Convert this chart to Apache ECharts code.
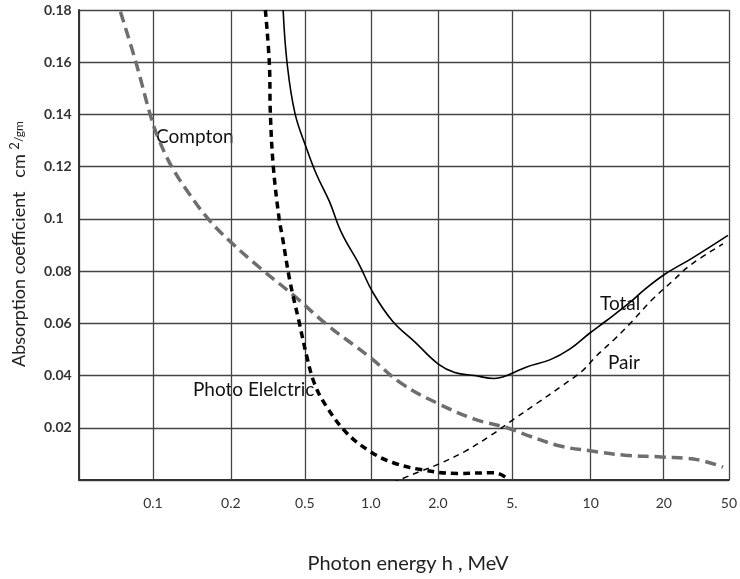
<!DOCTYPE html>
<html>
<head>
<meta charset="utf-8">
<script src="https://cdn.jsdelivr.net/npm/echarts@6/dist/echarts.min.js"></script>
<style>html,body{margin:0;padding:0;background:#fff}#c{width:740px;height:579px}</style>
</head>
<body>
<div id="c"></div>
<script>
// x positions are in grid-cell units (hand-drawn, unevenly spaced energy grid)
const xTickPos = [0, 1.024, 2.103, 3.127, 4.042, 4.971, 5.995, 7.087, 8.098, 9];
const xTickLabels = ['', '0.1', '0.2', '0.5', '1.0', '2.0', '5.', '10', '20', '50'];
const yTickLabels = ['', '0.02', '0.04', '0.06', '0.08', '0.1', '0.12', '0.14', '0.16', '0.18'];

const comptonX = [0.574,0.792,0.997,1.106,1.284,1.516,1.789,2.103,2.513,2.977,3.428,4.015,4.480,4.971,5.477,5.927,6.200,6.665,7.075,7.566,8.072,8.577,8.919];
const comptonY = [0.1793,0.1596,0.1389,0.1304,0.12,0.110,0.10,0.0911,0.0811,0.0706,0.0596,0.0473,0.0367,0.0293,0.0233,0.02,0.0172,0.0130,0.0112,0.0095,0.0088,0.0077,0.0049];

const photoX = [2.581,2.636,2.650,2.691,2.772,2.813,2.923,3.046,3.155,3.264,3.428,3.701,4.015,4.343,4.753,5.245,5.750,5.927];
const photoY = [0.18,0.1596,0.1404,0.12,0.10,0.0937,0.0759,0.0608,0.0473,0.0367,0.0281,0.0182,0.0112,0.0067,0.0039,0.0025,0.0028,0.0007];

const totalX = [2.827,2.882,2.991,3.155,3.291,3.469,3.633,3.879,4.070,4.343,4.657,4.971,5.203,5.477,5.750,5.886,6.023,6.200,6.528,6.801,7.075,7.293,7.621,7.839,8.113,8.481,8.987];
const totalY = [0.18,0.1596,0.1404,0.1267,0.1169,0.1066,0.0948,0.0826,0.0718,0.0608,0.0527,0.0445,0.0412,0.04,0.0389,0.0396,0.0412,0.0433,0.0461,0.0502,0.0563,0.0608,0.0678,0.0731,0.0788,0.0848,0.0937];

const pairX = [4.343,4.616,4.971,5.340,5.709,6.023,6.337,6.665,6.979,7.156,7.430,7.662,7.935,8.208,8.481,8.919];
const pairY = [-0.001,0.0021,0.0060,0.0109,0.0172,0.0233,0.0293,0.0356,0.0420,0.0473,0.0543,0.0608,0.0690,0.0759,0.0826,0.0904];

const zip = (xs, ys) => xs.map((x, i) => [x, ys[i]]);
const FONT = 'Lato, "Open Sans", sans-serif';

const chart = echarts.init(document.getElementById('c'), null, {renderer: 'canvas'});
chart.setOption({
  animation: false,
  backgroundColor: '#fff',
  grid: {left: 79, right: 2, top: 10, bottom: 90, containLabel: false},
  xAxis: {
    type: 'value', min: 0, max: 9,
    name: 'Photon energy h , MeV',
    nameLocation: 'middle', nameGap: 74,
    nameTextStyle: {fontFamily: FONT, fontSize: 20, color: '#222', padding: [0, 0, 0, 8]},
    axisLine: {show: true, lineStyle: {color: '#333', width: 2}},
    axisTick: {show: false, customValues: xTickPos},
    axisLabel: {
      customValues: xTickPos, margin: 16,
      fontFamily: FONT, fontSize: 14, color: '#333',
      formatter: v => { const i = xTickPos.findIndex(p => Math.abs(p - v) < 1e-6); return i >= 0 ? xTickLabels[i] : ''; }
    },
    splitLine: {show: true, lineStyle: {color: '#444', width: 1.3}}
  },
  yAxis: {
    type: 'value', min: 0, max: 0.18, interval: 0.02,
    axisLine: {show: true, lineStyle: {color: '#333', width: 2}},
    axisTick: {show: false},
    axisLabel: {
      align: 'left', margin: 35,
      fontFamily: FONT, fontSize: 14, fontWeight: 'bold', color: '#333',
      formatter: v => yTickLabels[Math.round(v / 0.02)] || ''
    },
    splitLine: {show: true, lineStyle: {color: '#444', width: 1.3}}
  },
  graphic: [
    {type: 'text', x: 156, y: 127, style: {text: 'Compton', font: '19px ' + FONT, fill: '#111'}},
    {type: 'text', x: 193, y: 380, style: {text: 'Photo Elelctric', font: '19px ' + FONT, fill: '#111'}},
    {type: 'text', x: 600, y: 294, style: {text: 'Total', font: '19px ' + FONT, fill: '#111'}},
    {type: 'text', x: 608, y: 353, style: {text: 'Pair', font: '19px ' + FONT, fill: '#111'}},
    {type: 'text', x: 8, y: 367, rotation: Math.PI / 2,
     style: {
       text: 'Absorption coefficient   cm {sup|2}{sub|/gm}',
       font: '18px ' + FONT, fill: '#222',
       rich: {
         sup: {fontSize: 13, fontFamily: FONT, padding: [0, 0, 10, 0], fill: '#222'},
         sub: {fontSize: 12, fontFamily: FONT, fill: '#222'}
       }
     }}
  ],
  series: [
    {type: 'line', name: 'Compton', data: zip(comptonX, comptonY), showSymbol: false, smooth: 0.4,
     lineStyle: {color: '#6e6e6e', width: 3.5, type: [11, 6]}},
    {type: 'line', name: 'Photo Elelctric', data: zip(photoX, photoY), showSymbol: false, smooth: 0.4,
     lineStyle: {color: '#000', width: 3.5, type: [7, 5]}},
    {type: 'line', name: 'Total', data: zip(totalX, totalY), showSymbol: false, smooth: 0.4,
     lineStyle: {color: '#000', width: 1.6}},
    {type: 'line', name: 'Pair', data: zip(pairX, pairY), showSymbol: false, smooth: 0.4,
     lineStyle: {color: '#000', width: 1.5, type: [6, 5]}}
  ]
});
</script>
</body>
</html>
